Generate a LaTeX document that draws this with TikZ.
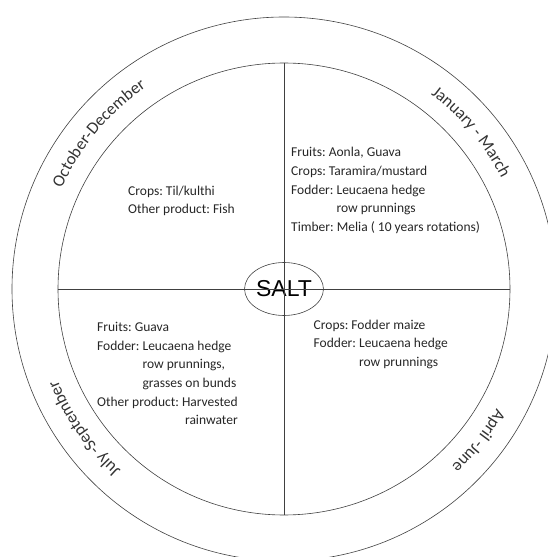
\documentclass[tikz,border=0pt]{standalone}
\usepackage{fontspec}
\setmainfont{Carlito}
\newfontfamily\saltfont{Liberation Sans}
\usetikzlibrary{shapes.geometric,decorations.text}

\newcommand\monthfont{\fontsize{17}{20}\selectfont\color{black!80}}

\begin{document}
\frenchspacing
\begin{tikzpicture}[x=1pt,y=1pt,
    node font=\fontsize{13.5}{18.6}\selectfont,
    ring/.style={draw=black!75, line width=0.6pt, circle, inner sep=0pt},
    season/.style={decorate, decoration={text along path, text align=center,
        text={|\monthfont|#1}}},
    note/.style={anchor=base west, align=left, inner sep=0pt, text=black!85}]
  \useasboundingbox (-284,-268) rectangle (264,289);

  \node[ring, minimum size=544] (outer) at (0,0) {};
  \node[ring, minimum size=452] (inner) at (0,0) {};
  \node[draw=black!75, line width=0.6pt, ellipse, inner sep=0pt,
        minimum width=78, minimum height=53,
        font=\saltfont\fontsize{23}{25}\selectfont] (salt) at (0,0) {SALT};
  \draw[black!75, line width=0.6pt] (inner.north) -- (inner.south);
  \draw[black!75, line width=0.6pt] (inner.west) -- (inner.east);

  % seasons round the ring
  \path[season={October-December}] (180:244) arc[start angle=180, end angle=100, radius=244];
  \path[season={January - March}] (80:244) arc[start angle=80, end angle=0, radius=244];
  \path[season={April -June}] (2:244) arc[start angle=2, end angle=-78, radius=244];
  \path[season={July -September}] (255:244) arc[start angle=255, end angle=175, radius=244];

  % products of each quarter (base = last line)
  \node[note] (octdec) at (-156,75.4) {Crops: Til/kulthi\\Other product: Fish};
  \node[note] (janmar) at (7,57.6) {Fruits: Aonla, Guava\\Crops: Taramira/mustard\\
    Fodder: Leucaena hedge\\\phantom{Fodder: }row prunnings\\Timber: Melia ( 10 years rotations)};
  \node[note] (julsep) at (-187,-135.6) {Fruits: Guava\\Fodder: Leucaena hedge\\
    \phantom{Fodder: }row prunnings,\\\phantom{Fodder: }grasses on bunds\\
    Other product: Harvested\\\hfill rainwater};
  \node[note] (aprjun) at (29.5,-77.5) {Crops: Fodder maize\\Fodder: Leucaena hedge\\
    \phantom{Fodder: }row prunnings};
\end{tikzpicture}
\end{document}
